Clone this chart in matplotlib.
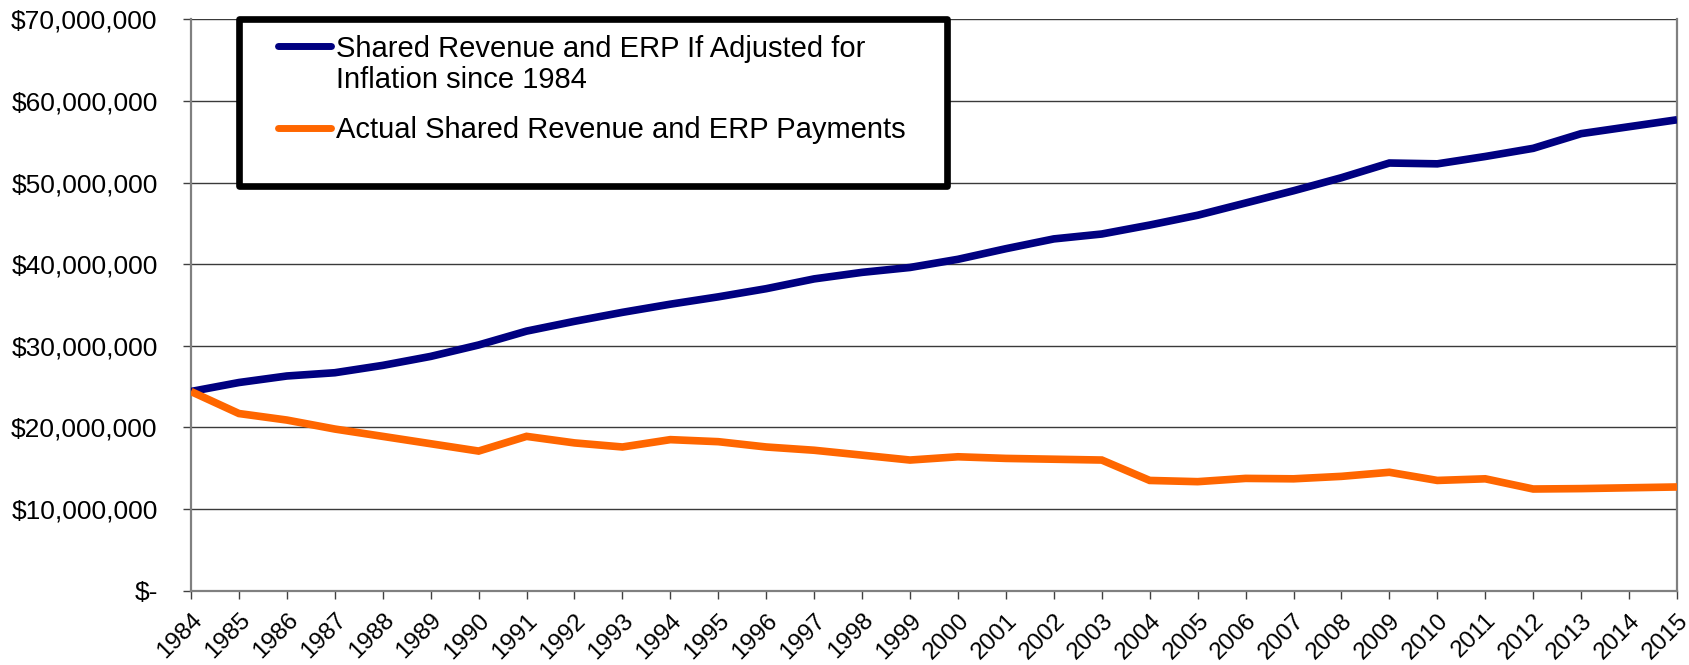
import numpy as np
import matplotlib.pyplot as plt
from matplotlib.patches import Rectangle
from matplotlib.lines import Line2D
from matplotlib.ticker import FuncFormatter

plt.rcParams['font.family'] = ['Liberation Sans', 'DejaVu Sans']

years = list(range(1984, 2016))
adjusted = [24.4, 25.5, 26.3, 26.7, 27.6, 28.7, 30.1, 31.8, 33.0, 34.1,
            35.1, 36.0, 37.0, 38.2, 39.0, 39.6, 40.6, 41.9, 43.1, 43.7,
            44.8, 46.0, 47.5, 49.0, 50.6, 52.4, 52.3, 53.2, 54.2, 56.0,
            56.85, 57.7]
actual = [24.4, 21.7, 20.9, 19.8, 18.9, 18.0, 17.1, 18.9, 18.1, 17.6,
          18.5, 18.25, 17.6, 17.2, 16.6, 16.0, 16.4, 16.2, 16.1, 16.0,
          13.5, 13.35, 13.75, 13.7, 14.0, 14.5, 13.5, 13.7, 12.45, 12.5,
          12.6, 12.7]
adjusted = np.array(adjusted) * 1e6
actual = np.array(actual) * 1e6

label_adj = "Shared Revenue and ERP If Adjusted for\nInflation since 1984"
label_act = "Actual Shared Revenue and ERP Payments"
blue = '#000080'
orange = '#FF6600'

W, H = 1690, 665
fig = plt.figure(figsize=(W / 100, H / 100), dpi=100)
ax = fig.add_axes([191 / W, 1 - 590.6 / H, (1677 - 191) / W, (590.6 - 19.4) / H])

ax.plot(years, adjusted, color=blue, lw=5.5, solid_capstyle='butt', solid_joinstyle='miter', zorder=3)
ax.plot(years, actual, color=orange, lw=5.5, solid_capstyle='butt', solid_joinstyle='miter', zorder=3)

ax.set_xlim(1984, 2015)
ax.set_ylim(0, 70e6)
ax.set_yticks(np.arange(0, 70e6 + 1, 10e6))
ax.set_xticks(years)
ax.yaxis.set_major_formatter(FuncFormatter(lambda v, p: "$-" if v == 0 else f"${v:,.0f}"))
ax.set_xticklabels([str(y) for y in years], rotation=45, ha='right', va='top', rotation_mode='anchor')

ax.grid(axis='y', color='#3a3a3a', lw=1.0)
ax.set_axisbelow(True)
for side in ['left', 'bottom', 'right']:
    ax.spines[side].set_color('#808080')
    ax.spines[side].set_linewidth(1.6)
ax.spines['top'].set_visible(False)
ax.tick_params(axis='y', direction='out', length=6, width=1, color='#404040', labelsize=19, pad=18)
ax.tick_params(axis='x', direction='out', length=5.5, width=1, color='#404040', labelsize=17.5, pad=8)

# legend box drawn in figure pixels
def fx(x):
    return x / W

def fy(y):
    return 1 - y / H

fig.patches.append(Rectangle((fx(239), fy(186)), fx(947) - fx(239), fy(19) - fy(186),
                             transform=fig.transFigure, facecolor='white', edgecolor='black',
                             lw=4.8, joinstyle='round', zorder=5))
fig.lines.append(Line2D([fx(278), fx(331)], [fy(46), fy(46)], transform=fig.transFigure,
                        color=blue, lw=5, solid_capstyle='round', zorder=6))
fig.lines.append(Line2D([fx(278), fx(331)], [fy(128), fy(128)], transform=fig.transFigure,
                        color=orange, lw=5, solid_capstyle='round', zorder=6))
fig.text(fx(336), fy(35), label_adj, fontsize=21, va='top', ha='left', linespacing=1.12, zorder=7)
fig.text(fx(336), fy(130), label_act, fontsize=21, va='center', ha='left', zorder=7)

fig.savefig('out.png', dpi=100)
